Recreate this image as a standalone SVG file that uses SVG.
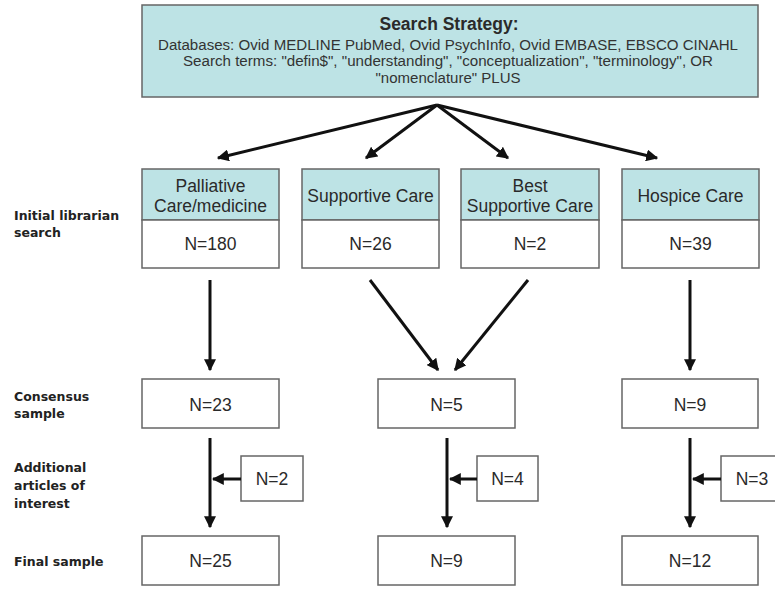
<svg xmlns="http://www.w3.org/2000/svg" width="775" height="589" viewBox="0 0 775 589">
<defs>
<marker id="ah" viewBox="0 0 10 10" refX="9" refY="5" markerWidth="4" markerHeight="4" orient="auto" markerUnits="strokeWidth">
<path d="M0,0 L10,5 L0,10 z" fill="#111"/>
</marker>
<style>
.box{fill:#fff;stroke:#666;stroke-width:1.5}
.hd{fill:#bde3e5;stroke:#666;stroke-width:1.5}
.t{font-family:"Liberation Sans",Arial,sans-serif;fill:#2a2a2a;text-anchor:middle}
.n{font-size:17.5px}
.s{font-size:15.5px;fill:#333}
.lb{font-family:"DejaVu Sans",Verdana,sans-serif;font-size:12.5px;font-weight:bold;fill:#222}
.ar{stroke:#111;stroke-width:3;fill:none;marker-end:url(#ah)}
</style>
</defs>
<rect width="775" height="589" fill="#fff"/>

<g id="strategy">
<rect class="hd" x="142" y="5" width="616" height="92"/>
<text class="t" x="449" y="30" font-size="17.5" font-weight="bold" fill="#111">Search Strategy:</text>
<text class="t s" x="448" y="50" textLength="580" lengthAdjust="spacingAndGlyphs">Databases: Ovid MEDLINE PubMed, Ovid PsychInfo, Ovid EMBASE, EBSCO CINAHL</text>
<text class="t s" x="448" y="66" textLength="530" lengthAdjust="spacingAndGlyphs">Search terms: "defin$", "understanding", "conceptualization", "terminology", OR</text>
<text class="t s" x="448" y="83" textLength="145" lengthAdjust="spacingAndGlyphs">"nomenclature" PLUS</text>
</g>

<g id="labels">
<text class="lb" x="14" y="220">Initial librarian</text>
<text class="lb" x="14" y="237">search</text>
<text class="lb" x="14" y="401">Consensus</text>
<text class="lb" x="14" y="418">sample</text>
<text class="lb" x="14" y="472">Additional</text>
<text class="lb" x="14" y="490">articles of</text>
<text class="lb" x="14" y="508">interest</text>
<text class="lb" x="14" y="566">Final sample</text>
</g>

<g id="palliative">
<rect class="hd" x="142" y="169" width="137" height="51"/>
<rect class="box" x="142" y="220" width="137" height="48"/>
<text class="t n" x="210.5" y="192">Palliative</text>
<text class="t n" x="210.5" y="212">Care/medicine</text>
<text class="t n" x="210.5" y="250">N=180</text>
</g>
<g id="supportive">
<rect class="hd" x="302" y="169" width="137" height="51"/>
<rect class="box" x="302" y="220" width="137" height="48"/>
<text class="t n" x="370.5" y="202">Supportive Care</text>
<text class="t n" x="370.5" y="250">N=26</text>
</g>
<g id="best">
<rect class="hd" x="461" y="169" width="138" height="51"/>
<rect class="box" x="461" y="220" width="138" height="48"/>
<text class="t n" x="530" y="192">Best</text>
<text class="t n" x="530" y="212">Supportive Care</text>
<text class="t n" x="530" y="250">N=2</text>
</g>
<g id="hospice">
<rect class="hd" x="622" y="169" width="137" height="51"/>
<rect class="box" x="622" y="220" width="137" height="48"/>
<text class="t n" x="690.5" y="202">Hospice Care</text>
<text class="t n" x="690.5" y="250">N=39</text>
</g>

<g id="cons1"><rect class="box" x="142" y="379" width="137" height="49"/><text class="t n" x="210.5" y="411">N=23</text></g>
<g id="cons2"><rect class="box" x="378" y="379" width="137" height="49"/><text class="t n" x="446.5" y="411">N=5</text></g>
<g id="cons3"><rect class="box" x="622" y="379" width="136" height="49"/><text class="t n" x="690" y="411">N=9</text></g>

<g id="add1"><rect class="box" x="241" y="456" width="62" height="45"/><text class="t n" x="272" y="485">N=2</text></g>
<g id="add2"><rect class="box" x="477" y="456" width="61" height="45"/><text class="t n" x="507.5" y="485">N=4</text></g>
<g id="add3"><rect class="box" x="721" y="456" width="62" height="45"/><text class="t n" x="752" y="485">N=3</text></g>

<g id="final1"><rect class="box" x="142" y="536" width="137" height="49"/><text class="t n" x="210.5" y="567">N=25</text></g>
<g id="final2"><rect class="box" x="378" y="536" width="137" height="49"/><text class="t n" x="446.5" y="567">N=9</text></g>
<g id="final3"><rect class="box" x="622" y="536" width="136" height="49"/><text class="t n" x="690" y="567">N=12</text></g>

<g id="connectors">
<line class="ar" x1="437" y1="105" x2="218" y2="158"/>
<line class="ar" x1="437" y1="105" x2="366" y2="158"/>
<line class="ar" x1="437" y1="105" x2="508" y2="158"/>
<line class="ar" x1="437" y1="105" x2="657" y2="158"/>
<line class="ar" x1="210" y1="280" x2="210" y2="370"/>
<line class="ar" x1="370" y1="280" x2="438" y2="370"/>
<line class="ar" x1="528" y1="280" x2="455" y2="370"/>
<line class="ar" x1="690" y1="280" x2="690" y2="370"/>
<line class="ar" x1="210" y1="438" x2="210" y2="527"/>
<line class="ar" x1="447" y1="438" x2="447" y2="527"/>
<line class="ar" x1="690" y1="438" x2="690" y2="527"/>
<line class="ar" x1="241" y1="479" x2="213" y2="479"/>
<line class="ar" x1="477" y1="479" x2="450" y2="479"/>
<line class="ar" x1="721" y1="479" x2="693" y2="479"/>
</g>
</svg>
